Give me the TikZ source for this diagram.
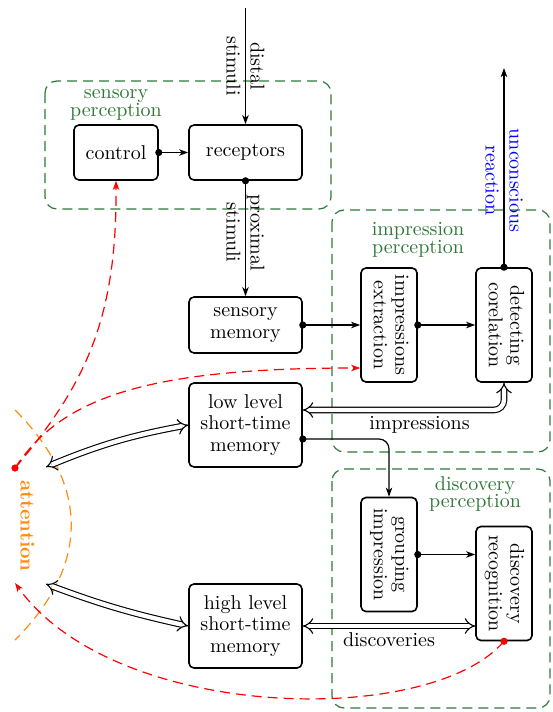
\documentclass[tikz,border=0pt]{standalone}
\usetikzlibrary{arrows.meta}
\definecolor{grn}{RGB}{45,120,55}
\definecolor{org}{RGB}{255,140,20}
\newcommand\vtext[1]{\rotatebox{-90}{\begin{tabular}{@{}c@{}}#1\end{tabular}}}
\newcommand\tightlines{\fontsize{10}{8.8}\selectfont\lineskiplimit=-20pt\relax}
\newcommand\boxlines{\fontsize{10}{10.8}\selectfont}
\begin{document}
\begin{tikzpicture}[x=0.5pt,y=-0.5pt,
  box/.style={draw, thick, rounded corners=2.5pt, align=center, inner sep=0pt,
    font=\boxlines},
  wbox/.style={box, minimum width=56.5pt},
  vbox/.style={box, minimum width=28pt, minimum height=57pt},
  grp/.style={draw=grn, semithick, dash pattern=on 5pt off 3pt, rounded corners=6pt},
  grplabel/.style={text=grn, align=center, inner sep=0pt, font=\tightlines},
  arr/.style={semithick, -{Stealth[length=4.5pt,width=3.2pt,inset=1.2pt]}},
  dbl/.style={line width=0.55pt, double, double distance=2.2pt, {Implies}-{Implies}},
  rarr/.style={red, semithick, dash pattern=on 5pt off 3pt,
    -{Stealth[length=4.5pt,width=3.2pt,inset=1.2pt]}},
  lbl/.style={align=center, inner sep=2pt}
]
\useasboundingbox (0,0) rectangle (552,712);

% perception groups
\draw[grp] (45,81) rectangle (331,209);
\draw[grp] (332,210) rectangle (550,452);
\draw[grp] (332,469) rectangle (550,708);
\node[grplabel] (lsens) at (116,105) {sensory\\perception};
\node[grplabel] (limp) at (418,240) {impression\\perception};
\node[grplabel] (ldisc) at (475,494) {discovery\\perception};

% boxes
\node[box, minimum width=42pt, minimum height=27.5pt] (control) at (116,152.5) {control};
\node[wbox, minimum height=27.5pt] (recep) at (245.5,152.5) {receptors};
\node[wbox, minimum height=28pt] (smem) at (245.5,325) {sensory\\memory};
\node[wbox, minimum height=42pt] (lmem) at (245.5,425) {low level\\short-time\\memory};
\node[wbox, minimum height=42pt] (hmem) at (245.5,626) {high level\\short-time\\memory};
\node[vbox] (impext) at (389,325) {\vtext{impressions\\extraction}};
\node[vbox] (detcor) at (504,325) {\vtext{detecting\\corelation}};
\node[vbox] (grpimp) at (389,554.5) {\vtext{grouping\\impression}};
\node[vbox] (discrec) at (504,583.5) {\vtext{discovery\\recognition}};

% stimuli
\coordinate (dtop) at (245.5,8);
\draw[arr] (dtop) -- (recep.north)
  node[midway, rotate=-90, lbl] (ldist) {distal\\stimuli};
\draw[arr] (recep.south) -- (smem.north)
  node[pos=0.45, rotate=-90, lbl] (lprox) {proximal\\stimuli};
\fill (recep.south) circle (1.8pt);

\draw[arr] (control.east) -- (recep.west);
\fill (control.east) circle (1.8pt);

\draw[arr] (smem.east) -- (impext.west);
\fill (smem.east) circle (1.8pt);
\draw[arr] (impext.east) -- (detcor.west);
\fill (impext.east) circle (1.8pt);

\coordinate (rtop) at (504,68);
\draw[arr] (detcor.north) -- (rtop)
  node[pos=0.435, rotate=-90, lbl, text=blue] (lreac) {unconscious\\reaction};
\fill (detcor.north) circle (1.8pt);

% impressions
\draw[dbl, rounded corners=5pt] (detcor.south) |- ([yshift=7.5pt]lmem.east)
  node[pos=0.71, below, inner sep=3pt] (limpr) {impressions};

\draw[arr, rounded corners=5pt] ([yshift=-7pt]lmem.east) -| (grpimp.north);
\fill ([yshift=-7pt]lmem.east) circle (1.8pt);

\draw[arr] (grpimp.east) -- (grpimp.east -| discrec.west);
\fill (grpimp.east) circle (1.8pt);

% discoveries
\draw[dbl] (hmem.east) -- (hmem.east -| discrec.west)
  node[midway, below, inner sep=3pt] (ldisco) {discoveries};

% attention
\draw[org, semithick, dash pattern=on 5pt off 3pt] (15,410) .. controls (90,485) and (90,565) .. (15,640);
\node[rotate=-90, text=org, font=\bfseries] (latt) at (27.5,526) {attention};
\coordinate (att1) at (46,467);
\coordinate (att2) at (46,584);
\draw[dbl] (att1) to[bend left=6] (lmem.west);
\draw[dbl] (att2) to[bend right=4] (hmem.west);

% red control paths
\coordinate (rdot) at (15,468);
\draw[rarr] (rdot) .. controls (85,385) and (117,320) .. (control.south);
\draw[rarr] (rdot) .. controls (60,400) and (140,368) .. ([yshift=-21.5pt]impext.west);
\fill[red] (rdot) circle (1.8pt);
\coordinate (rend) at (15,583);
\draw[rarr] (discrec.south) .. controls (430,728) and (115,722) .. (rend);
\fill[red] (discrec.south) circle (1.8pt);
\end{tikzpicture}
\end{document}
